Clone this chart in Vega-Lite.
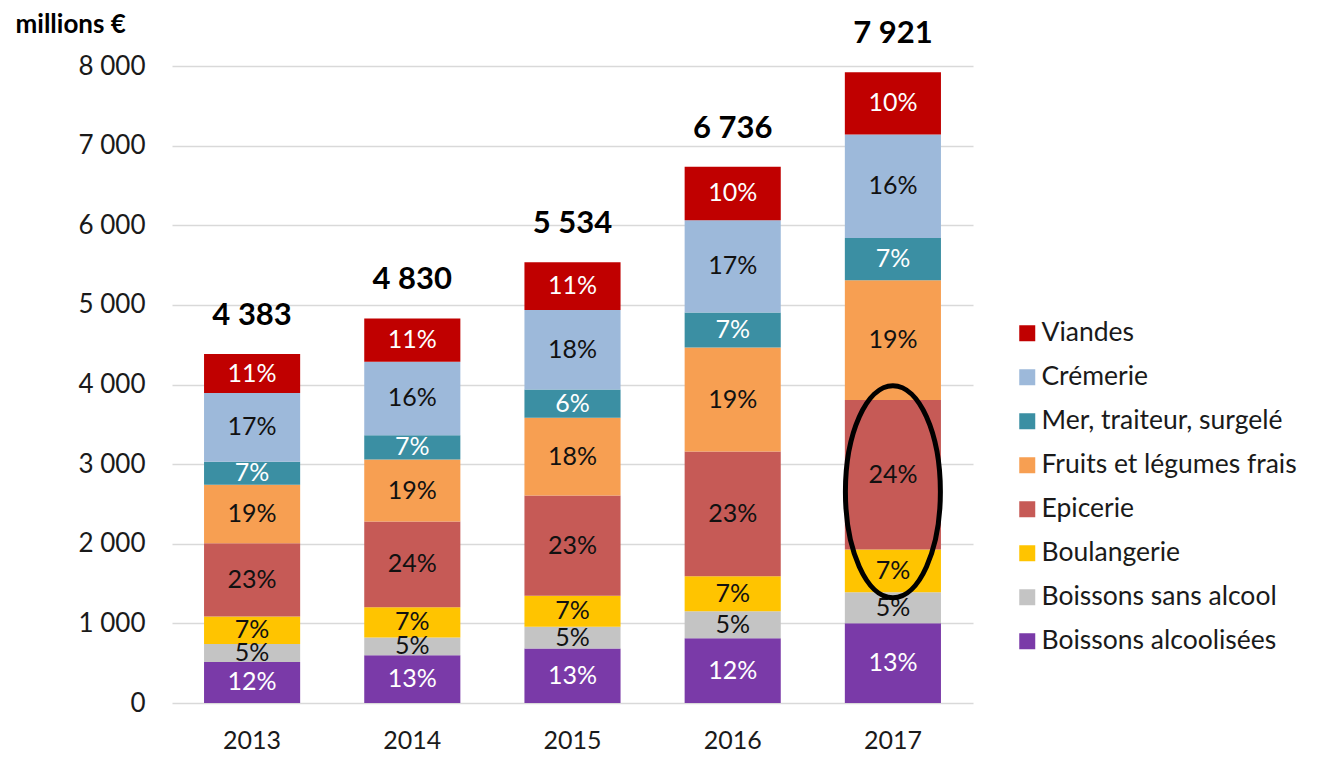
{
  "$schema": "https://vega.github.io/schema/vega-lite/v6.json",
  "width": 801,
  "height": 637,
  "autosize": {"type": "none"},
  "padding": {"left": 172, "top": 66, "right": 346, "bottom": 54},
  "background": "white",
  "config": {
    "locale": {"number": {"decimal": ",", "thousands": " ", "grouping": [3], "currency": ["", " €"]}},
    "view": {"stroke": null},
    "font": "Lato"
  },
  "data": {
    "values": [
      {"annee": "2013", "categorie": "Boissons alcoolisées", "valeur": 515, "pct": "12%", "rang": 1},
      {"annee": "2013", "categorie": "Boissons sans alcool", "valeur": 225, "pct": "5%", "rang": 2},
      {"annee": "2013", "categorie": "Boulangerie", "valeur": 345, "pct": "7%", "rang": 3},
      {"annee": "2013", "categorie": "Epicerie", "valeur": 920, "pct": "23%", "rang": 4},
      {"annee": "2013", "categorie": "Fruits et légumes frais", "valeur": 735, "pct": "19%", "rang": 5},
      {"annee": "2013", "categorie": "Mer, traiteur, surgelé", "valeur": 290, "pct": "7%", "rang": 6},
      {"annee": "2013", "categorie": "Crémerie", "valeur": 862, "pct": "17%", "rang": 7},
      {"annee": "2013", "categorie": "Viandes", "valeur": 491, "pct": "11%", "rang": 8},
      {"annee": "2014", "categorie": "Boissons alcoolisées", "valeur": 600, "pct": "13%", "rang": 1},
      {"annee": "2014", "categorie": "Boissons sans alcool", "valeur": 224, "pct": "5%", "rang": 2},
      {"annee": "2014", "categorie": "Boulangerie", "valeur": 377, "pct": "7%", "rang": 3},
      {"annee": "2014", "categorie": "Epicerie", "valeur": 1079, "pct": "24%", "rang": 4},
      {"annee": "2014", "categorie": "Fruits et légumes frais", "valeur": 777, "pct": "19%", "rang": 5},
      {"annee": "2014", "categorie": "Mer, traiteur, surgelé", "valeur": 306, "pct": "7%", "rang": 6},
      {"annee": "2014", "categorie": "Crémerie", "valeur": 924, "pct": "16%", "rang": 7},
      {"annee": "2014", "categorie": "Viandes", "valeur": 543, "pct": "11%", "rang": 8},
      {"annee": "2015", "categorie": "Boissons alcoolisées", "valeur": 685, "pct": "13%", "rang": 1},
      {"annee": "2015", "categorie": "Boissons sans alcool", "valeur": 272, "pct": "5%", "rang": 2},
      {"annee": "2015", "categorie": "Boulangerie", "valeur": 391, "pct": "7%", "rang": 3},
      {"annee": "2015", "categorie": "Epicerie", "valeur": 1259, "pct": "23%", "rang": 4},
      {"annee": "2015", "categorie": "Fruits et légumes frais", "valeur": 975, "pct": "18%", "rang": 5},
      {"annee": "2015", "categorie": "Mer, traiteur, surgelé", "valeur": 356, "pct": "6%", "rang": 6},
      {"annee": "2015", "categorie": "Crémerie", "valeur": 999, "pct": "18%", "rang": 7},
      {"annee": "2015", "categorie": "Viandes", "valeur": 597, "pct": "11%", "rang": 8},
      {"annee": "2016", "categorie": "Boissons alcoolisées", "valeur": 812, "pct": "12%", "rang": 1},
      {"annee": "2016", "categorie": "Boissons sans alcool", "valeur": 340, "pct": "5%", "rang": 2},
      {"annee": "2016", "categorie": "Boulangerie", "valeur": 440, "pct": "7%", "rang": 3},
      {"annee": "2016", "categorie": "Epicerie", "valeur": 1566, "pct": "23%", "rang": 4},
      {"annee": "2016", "categorie": "Fruits et légumes frais", "valeur": 1306, "pct": "19%", "rang": 5},
      {"annee": "2016", "categorie": "Mer, traiteur, surgelé", "valeur": 440, "pct": "7%", "rang": 6},
      {"annee": "2016", "categorie": "Crémerie", "valeur": 1158, "pct": "17%", "rang": 7},
      {"annee": "2016", "categorie": "Viandes", "valeur": 674, "pct": "10%", "rang": 8},
      {"annee": "2017", "categorie": "Boissons alcoolisées", "valeur": 1003, "pct": "13%", "rang": 1},
      {"annee": "2017", "categorie": "Boissons sans alcool", "valeur": 388, "pct": "5%", "rang": 2},
      {"annee": "2017", "categorie": "Boulangerie", "valeur": 536, "pct": "7%", "rang": 3},
      {"annee": "2017", "categorie": "Epicerie", "valeur": 1879, "pct": "24%", "rang": 4},
      {"annee": "2017", "categorie": "Fruits et légumes frais", "valeur": 1502, "pct": "19%", "rang": 5},
      {"annee": "2017", "categorie": "Mer, traiteur, surgelé", "valeur": 531, "pct": "7%", "rang": 6},
      {"annee": "2017", "categorie": "Crémerie", "valeur": 1300, "pct": "16%", "rang": 7},
      {"annee": "2017", "categorie": "Viandes", "valeur": 782, "pct": "10%", "rang": 8}
    ]
  },
  "encoding": {
    "x": {
      "field": "annee",
      "type": "ordinal",
      "scale": {"paddingInner": 0.4, "paddingOuter": 0.2},
      "axis": {
        "title": null,
        "domain": false,
        "ticks": false,
        "labelAngle": 0,
        "labelFontSize": 25,
        "labelColor": "#1a1a1a",
        "labelPadding": 25
      }
    }
  },
  "layer": [
    {
      "mark": {"type": "bar"},
      "encoding": {
        "y": {
          "field": "valeur",
          "type": "quantitative",
          "stack": "zero",
          "scale": {"domain": [0, 8000], "nice": false},
          "axis": {
            "values": [0, 1000, 2000, 3000, 4000, 5000, 6000, 7000, 8000],
            "format": ",d",
            "grid": true,
            "gridColor": "#D9D9D9",
            "gridWidth": 1.5,
            "domain": false,
            "ticks": false,
            "labelFontSize": 26,
            "labelColor": "#1a1a1a",
            "labelPadding": 27,
            "title": "millions €",
            "titleAngle": 0,
            "titleX": -157,
            "titleY": -34,
            "titleAlign": "left",
            "titleBaseline": "alphabetic",
            "titleFontSize": 26,
            "titleFontWeight": "bold",
            "titleColor": "#000000"
          }
        },
        "color": {
          "field": "categorie",
          "type": "nominal",
          "scale": {
            "domain": ["Viandes", "Crémerie", "Mer, traiteur, surgelé", "Fruits et légumes frais", "Epicerie", "Boulangerie", "Boissons sans alcool", "Boissons alcoolisées"],
            "range": ["#C00000", "#9DB9DA", "#3B8FA3", "#F79F52", "#C65A56", "#FFC400", "#C4C4C4", "#7A3AA8"]
          },
          "legend": {
            "title": null,
            "orient": "none",
            "legendX": 842,
            "legendY": 254,
            "symbolType": "square",
            "symbolSize": 256,
            "symbolStrokeWidth": 0,
            "labelFontSize": 26.5,
            "labelColor": "#1a1a1a",
            "labelOffset": 1,
            "rowPadding": 17,
            "labelLimit": 400
          }
        },
        "order": {"field": "rang", "type": "quantitative"}
      }
    },
    {
      "mark": {"type": "text", "fontSize": 25, "baseline": "middle"},
      "encoding": {
        "y": {"field": "valeur", "type": "quantitative", "stack": "zero", "bandPosition": 0.5},
        "detail": {"field": "categorie", "type": "nominal"},
        "order": {"field": "rang", "type": "quantitative"},
        "text": {"field": "pct", "type": "nominal"},
        "color": {
          "condition": {"test": "datum.categorie === 'Viandes' || datum.categorie === 'Mer, traiteur, surgelé' || datum.categorie === 'Boissons alcoolisées'", "value": "#ffffff"},
          "value": "#111111"
        }
      }
    },
    {
      "mark": {"type": "text", "fontSize": 31, "fontWeight": "bold", "baseline": "alphabetic", "dy": -29, "color": "#000000"},
      "encoding": {
        "y": {"aggregate": "sum", "field": "valeur", "type": "quantitative"},
        "text": {"aggregate": "sum", "field": "valeur", "type": "quantitative", "format": ",d"}
      }
    },
    {
      "mark": {
        "type": "point",
        "shape": "M0,-1C0.2476,-1,0.448,-0.552,0.448,0C0.448,0.552,0.2476,1,0,1C-0.2476,1,-0.448,0.552,-0.448,0C-0.448,-0.552,-0.2476,-1,0,-1Z",
        "size": 44944,
        "filled": false,
        "stroke": "#000000",
        "strokeWidth": 5,
        "yOffset": 17
      },
      "encoding": {
        "y": {"field": "valeur", "type": "quantitative", "stack": "zero", "bandPosition": 0.5},
        "detail": {"field": "categorie", "type": "nominal"},
        "order": {"field": "rang", "type": "quantitative"},
        "opacity": {
          "condition": {"test": "datum.annee === '2017' && datum.categorie === 'Epicerie'", "value": 1},
          "value": 0
        }
      }
    }
  ]
}
